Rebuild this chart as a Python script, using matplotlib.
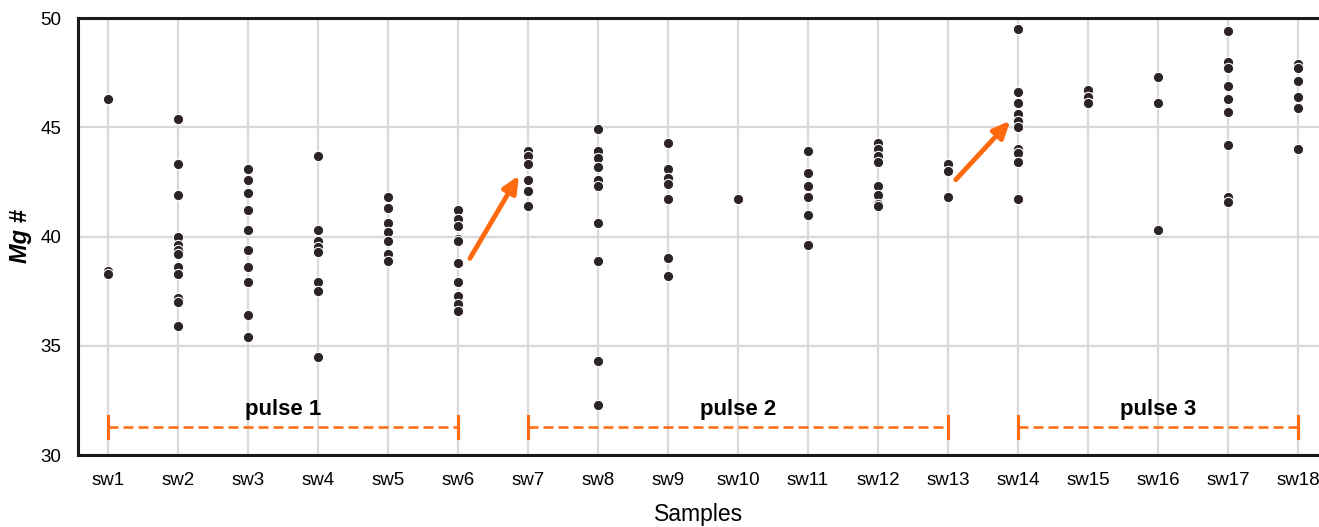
import matplotlib
matplotlib.use('Agg')
import matplotlib.pyplot as plt

plt.rcParams['font.family'] = ['Liberation Sans', 'DejaVu Sans']

samples = ['sw%d' % i for i in range(1, 19)]

mg_values = [
    [46.3, 38.4, 38.3],
    [45.4, 43.3, 41.9, 40.0, 39.6, 39.4, 39.2, 38.6, 38.3, 37.2, 37.0, 35.9],
    [43.1, 42.6, 42.0, 41.2, 40.3, 39.4, 38.6, 37.9, 36.4, 35.4],
    [43.7, 40.3, 39.8, 39.5, 39.3, 37.9, 37.5, 34.5],
    [41.8, 41.3, 40.6, 40.2, 39.8, 39.2, 38.9],
    [41.2, 40.8, 40.5, 39.9, 39.8, 38.8, 37.9, 37.3, 36.9, 36.6],
    [43.9, 43.7, 43.3, 42.6, 42.1, 41.4],
    [44.9, 43.9, 43.6, 43.2, 42.6, 42.3, 40.6, 38.9, 34.3, 32.3],
    [44.3, 43.1, 42.7, 42.4, 41.7, 39.0, 38.2],
    [41.7],
    [43.9, 42.9, 42.3, 41.8, 41.0, 39.6],
    [44.3, 44.0, 43.7, 43.4, 42.3, 41.9, 41.5, 41.4],
    [43.3, 43.0, 41.8],
    [49.5, 46.6, 46.1, 45.6, 45.3, 45.0, 44.0, 43.8, 43.4, 41.7],
    [46.7, 46.4, 46.1],
    [47.3, 46.1, 40.3],
    [49.4, 48.0, 47.7, 46.9, 46.3, 45.7, 44.2, 41.8, 41.6],
    [47.9, 47.7, 47.1, 46.4, 45.9, 44.0],
]

pulse_names = ['pulse 1', 'pulse 2', 'pulse 3']
pulse_start = [1, 7, 14]
pulse_end = [6, 13, 18]
pulse_y = 31.3

# arrows: (x0, y0, x1, y1) in sample index / Mg# units
arrows = [(6.17, 39.0, 6.87, 42.8), (13.11, 42.6, 13.89, 45.3)]

orange = '#ff6a10'
dot = '#2b2324'

fig = plt.figure(figsize=(13.19, 5.27), dpi=100)
ax = fig.add_axes([0.0591, 0.1366, 0.9409, 0.8292])

for i, vals in enumerate(mg_values):
    ax.scatter([i + 1] * len(vals), vals, s=55, color=dot,
               edgecolors='white', linewidths=0.8, zorder=3)

for name, a, b in zip(pulse_names, pulse_start, pulse_end):
    ax.plot([a, b], [pulse_y, pulse_y], color=orange, lw=1.8,
            dashes=(4, 2), zorder=2)
    ax.plot([a, a], [pulse_y - 0.5, pulse_y + 0.5], color=orange, lw=2.2, zorder=2)
    ax.plot([b, b], [pulse_y - 0.5, pulse_y + 0.5], color=orange, lw=2.2, zorder=2)
    ax.text((a + b) / 2, pulse_y + 0.3, name, ha='center', va='bottom',
            fontsize=16, fontweight='bold', color='black')

for x0, y0, x1, y1 in arrows:
    ax.annotate('', xy=(x1, y1), xytext=(x0, y0),
                arrowprops=dict(arrowstyle='-|>,head_length=1.0,head_width=0.45',
                                color=orange, lw=3.5, shrinkA=0, shrinkB=0),
                zorder=4)

ax.set_xlim(0.57, 18.3)
ax.set_ylim(30, 50)
ax.set_xticks(range(1, 19))
ax.set_xticklabels(samples)
ax.set_yticks([30, 35, 40, 45, 50])
ax.tick_params(length=0, labelsize=13.5, pad=12)
ax.grid(True, color='#d9d9d9', lw=1.6)
ax.set_axisbelow(True)

for side in ['left', 'top', 'bottom']:
    ax.spines[side].set_linewidth(2.2)
    ax.spines[side].set_color('#1a1a1a')
ax.spines['right'].set_visible(False)

ax.set_xlabel('Samples', fontsize=16.5, labelpad=10)
ax.set_ylabel('Mg #', fontsize=17, style='italic', fontweight='bold', labelpad=6)

fig.savefig('out.png', dpi=100, facecolor='white')
